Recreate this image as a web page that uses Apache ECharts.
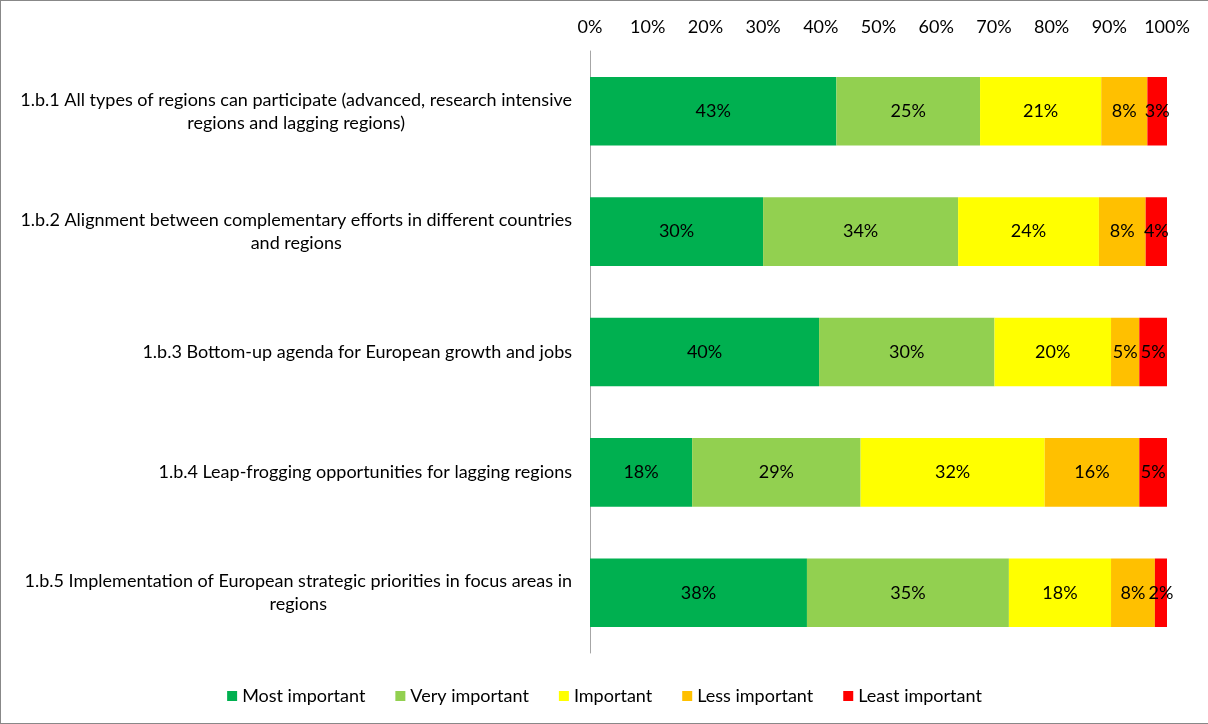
<!DOCTYPE html>
<html>
<head>
<meta charset="utf-8">
<script src="https://cdn.jsdelivr.net/npm/echarts@6/dist/echarts.min.js"></script>
<style>
    html, body { margin: 0; padding: 0; background: #fff; }
    #chart {
        width: 1208px;
        height: 724px;
        box-sizing: border-box;
        border: 1px solid #888;
        border-right: none;
    }
</style>
</head>
<body>
<div id="chart"></div>
<script>
    // categories (top to bottom)
    const categories = [
        '1.b.1 All types of regions can participate (advanced, research intensive\nregions and lagging regions)',
        '1.b.2 Alignment between complementary efforts in different countries\nand regions',
        '1.b.3 Bottom-up agenda for European growth and jobs',
        '1.b.4 Leap-frogging opportunities for lagging regions',
        '1.b.5 Implementation of European strategic priorities in focus areas in\nregions'
    ];
    // share of answers, percent
    const mostImportant  = [42.7, 30.0, 39.7, 17.7, 37.6];
    const veryImportant  = [24.9, 33.8, 30.4, 29.2, 35.0];
    const important      = [21.0, 24.4, 20.2, 31.9, 17.7];
    const lessImportant  = [8.0, 8.1, 4.9, 16.4, 7.6];
    const leastImportant = [3.4, 3.7, 4.8, 4.8, 2.1];
    const tickLabels = ['0%', '10%', '20%', '30%', '40%', '50%', '60%', '70%', '80%', '90%', '100%'];

    const font = 'Lato, "Open Sans", sans-serif';
    const groups = [
        { name: 'Most important', data: mostImportant, color: '#00B050' },
        { name: 'Very important', data: veryImportant, color: '#92D050' },
        { name: 'Important', data: important, color: '#FFFF00' },
        { name: 'Less important', data: lessImportant, color: '#FFC000' },
        { name: 'Least important', data: leastImportant, color: '#FF0000' }
    ];

    var myChart = echarts.init(document.getElementById('chart'));
    const option = {
        animation: false,
        textStyle: { fontFamily: font },
        grid: { left: 589, right: 41, top: 50, bottom: 70 },
        legend: {
            bottom: 13,
            left: 'center',
            icon: 'rect',
            itemWidth: 10,
            itemHeight: 10,
            itemGap: 30,
            textStyle: { fontSize: 18, color: '#000', fontFamily: font },
            data: groups.map(g => g.name)
        },
        xAxis: {
            type: 'value',
            position: 'top',
            min: 0,
            max: 100,
            interval: 10,
            axisLine: { show: false },
            axisTick: { show: false },
            splitLine: { show: false },
            axisLabel: {
                margin: 15,
                fontSize: 18,
                color: '#000',
                formatter: v => tickLabels[Math.round(v / 10)]
            }
        },
        yAxis: {
            type: 'category',
            inverse: true,
            data: categories,
            axisLine: { show: true, lineStyle: { color: '#a6a6a6', width: 1 } },
            axisTick: { show: false },
            axisLabel: {
                margin: 18,
                align: 'right',
                formatter: v => v.split('\n').map(s => '{c|' + s + '}').join('\n'),
                rich: {
                    c: { align: 'center', fontSize: 18, lineHeight: 23, color: '#000', fontFamily: font }
                }
            }
        },
        series: groups.map(g => ({
            name: g.name,
            type: 'bar',
            stack: 'total',
            barWidth: '57%',
            data: g.data,
            itemStyle: { color: g.color },
            label: {
                show: true,
                position: 'inside',
                color: '#000',
                fontSize: 18,
                fontFamily: font,
                formatter: p => Math.round(p.value) + '%'
            }
        }))
    };
    myChart.setOption(option);
</script>
</body>
</html>
